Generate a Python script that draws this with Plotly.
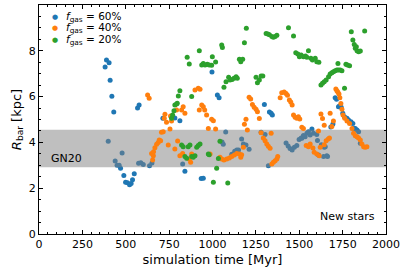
import plotly.graph_objects as go

# f_gas = 60% (blue)
blue_pts = [(381,7.29),(389,7.6),(404,7.48),(410,6.71),(420,6.01),(431,5.33),(399,4.05),(439,3.19),(450,3.0),(462,3.0),
            (470,2.87),(479,3.54),(489,2.55),(499,2.26),(510,2.24),(522,2.15),(531,2.21),(539,2.37),(549,2.63),(568,5.5),
            (577,5.63),(574,3.09),(587,3.11),(601,3.03),(637,2.98),(651,3.1),(714,5.05),(783,5.07),(812,4.95),(828,3.06),
            (841,2.74),(935,2.42),(947,2.43),(997,7.07),(1028,6.07),(1038,5.95),(1055,4.02),(1062,3.92),(1076,4.45),(1111,3.48),
            (1128,3.61),(1140,3.67),(1150,3.67),(1168,4.15),(1178,3.93),(1193,3.89),(1211,3.7),(1280,4.44),(1299,5.66),(1303,4.35),
            (1322,2.98),(1328,5.33),(1338,5.27),(1345,5.2),(1424,3.97),(1436,3.84),(1447,3.73),(1459,3.67),(1472,3.79),(1486,3.87),
            (1499,4.13),(1511,4.19),(1515,4.18),(1524,4.3),(1534,4.25),(1544,4.4),(1553,4.47),(1563,4.32),(1573,4.59),(1582,4.4),
            (1601,4.34),(1605,4.08),(1611,3.45),(1628,3.9),(1640,3.38),(1644,3.79),(1650,3.81),(1659,3.42),(1663,3.38),(1682,4.67),
            (1694,4.8),(1707,5.95),(1715,5.88),(1726,5.56),(1732,5.59),(1742,5.53),(1751,5.27),(1761,5.12),(1775,5.05),(1784,4.98),
            (1798,4.9),(1809,4.83),(1815,4.61),(1823,4.61),(1833,4.54),(1842,4.47),(1852,3.96)]

# f_gas = 40% (orange)
orange_pts = [(626,6.07),(635,5.93),(649,3.52),(655,3.23),(659,3.42),(660,3.59),(668,3.77),(678,3.92),(687,4.0),(693,4.1),
              (701,4.07),(706,4.44),(716,4.47),(722,5.05),(726,5.23),(735,4.88),(745,3.89),(755,4.59),(758,5.15),(764,4.93),
              (783,3.71),(793,5.41),(799,4.06),(812,3.42),(822,5.41),(828,3.52),(831,5.56),(841,5.27),(866,3.28),(874,3.13),
              (880,3.49),(899,6.29),(918,6.36),(928,6.32),(924,5.41),(938,5.63),(947,5.56),(955,5.41),(966,5.2),(976,4.61),
              (986,3.49),(995,5.01),(1005,4.95),(1018,4.59),(1043,3.35),(1053,3.28),(1066,3.23),(1082,3.28),(1097,3.32),(1111,3.38),
              (1126,3.45),(1140,3.52),(1155,3.49),(1163,3.35),(1168,3.46),(1178,3.79),(1184,4.79),(1193,5.01),(1201,4.54),(1211,5.97),
              (1220,5.9),(1230,5.66),(1240,5.53),(1251,5.45),(1259,5.34),(1270,5.04),(1280,4.42),(1293,4.19),(1303,4.07),(1313,3.93),
              (1322,3.83),(1332,3.74),(1338,4.4),(1342,3.06),(1351,3.13),(1361,3.2),(1371,3.28),(1376,3.38),(1390,5.95),(1399,6.17),
              (1413,6.2),(1424,6.14),(1432,6.06),(1443,5.85),(1451,5.76),(1459,5.63),(1467,5.2),(1476,5.1),(1486,5.05),(1495,5.12),
              (1503,5.02),(1515,4.66),(1524,4.61),(1540,3.86),(1553,3.81),(1563,3.93),(1579,3.76),(1586,3.57),(1601,3.49),(1615,3.42),
              (1621,3.79),(1644,3.9),(1655,4.07),(1667,4.15),(1674,4.19),(1611,4.5),(1625,5.24),(1634,5.04),(1644,4.75),(1688,4.69),
              (1697,4.93),(1678,5.27),(1711,6.33),(1717,6.26),(1723,6.19),(1729,6.11),(1734,5.95),(1740,5.7),(1746,5.45),(1752,5.2),
              (1762,5.05),(1775,4.93),(1790,4.83),(1804,4.61),(1813,4.4),(1823,4.29),(1833,4.25),(1842,4.19),(1852,4.1),(1861,3.93),
              (1871,3.81),(1880,3.79),(1890,3.81)]

# f_gas = 20% (green)
green_pts = [(764,5.05),(770,5.2),(778,5.38),(783,5.63),(793,5.68),(797,5.71),(803,6.03),(812,6.26),(822,3.89),(831,3.81),
             (841,3.38),(851,3.31),(854,7.72),(866,7.42),(860,3.81),(870,3.89),(880,6.0),(880,3.38),(889,3.35),(899,3.42),
             (909,3.79),(918,3.86),(924,8.0),(928,3.93),(938,7.38),(947,7.45),(957,7.38),(970,7.41),(981,7.38),(995,7.37),
             (976,3.49),(981,3.46),(999,7.74),(1005,2.26),(1018,7.51),(1024,2.87),(1034,3.3),(1043,4.05),(1053,8.25),(1057,8.14),
             (1066,6.41),(1078,6.65),(1088,2.23),(1093,6.84),(1101,6.72),(1113,6.75),(1124,6.8),(1136,6.87),(1143,6.8),(1155,7.63),
             (1163,7.52),(1174,7.63),(1184,8.35),(1195,8.98),(1251,6.84),(1259,6.61),(1270,6.72),(1280,6.9),(1290,6.9),(1309,8.76),
             (1319,8.73),(1328,8.7),(1342,8.62),(1351,8.59),(1361,8.62),(1371,8.68),(1438,9.01),(1467,8.65),(1480,7.92),(1492,7.86),
             (1501,7.74),(1511,7.82),(1524,7.74),(1536,7.77),(1544,7.72),(1553,8.0),(1567,7.67),(1576,7.6),(1592,7.67),(1601,7.52),
             (1613,7.5),(1625,6.51),(1634,6.58),(1644,6.65),(1655,6.72),(1669,6.87),(1678,6.99),(1688,7.04),(1697,7.09),(1707,7.13),
             (1717,7.16),(1726,7.16),(1736,7.16),(1746,7.13),(1723,7.44),(1761,6.36),(1769,7.41),(1778,7.38),(1790,7.35),(1800,8.83),
             (1809,8.47),(1817,8.28),(1823,8.11),(1829,8.18),(1833,8.0),(1842,7.96),(1852,7.99),(1877,8.86)]

series_names = ["<i>f</i><sub>gas</sub> = 60%", "<i>f</i><sub>gas</sub> = 40%", "<i>f</i><sub>gas</sub> = 20%"]
series_colors = ["#1f77b4", "#ff7f0e", "#2ca02c"]

band_lo, band_hi = 2.92, 4.55
x_range = [0, 2000]
y_range = [0, 10]

FONT = "DejaVu Sans"

def scat(pts, color, name):
    xs = [p[0] for p in pts]
    ys = [p[1] for p in pts]
    return go.Scatter(x=xs, y=ys, mode="markers", name=name, showlegend=False,
                      marker=dict(color=color, size=5, line=dict(width=0)))

fig = go.Figure()
fig.add_trace(scat(blue_pts, series_colors[0], series_names[0]))
fig.add_trace(go.Scatter(x=[x_range[0], x_range[1], x_range[1], x_range[0], x_range[0]],
                         y=[band_lo, band_lo, band_hi, band_hi, band_lo],
                         fill="toself", fillcolor="rgba(128,128,128,0.5)",
                         line=dict(width=0), mode="lines", showlegend=False, hoverinfo="skip"))
fig.add_trace(scat(orange_pts, series_colors[1], series_names[1]))
fig.add_trace(scat(green_pts, series_colors[2], series_names[2]))

# legend drawn as annotations (matplotlib-like compact layout)
leg_y = [0.948, 0.898, 0.848]
for name, color, yy in zip(series_names, series_colors, leg_y):
    fig.add_annotation(xref="paper", yref="paper", x=0.046, y=yy, text="●", showarrow=False,
                       xanchor="center", yanchor="middle",
                       font=dict(family=FONT, size=7, color=color))
    fig.add_annotation(xref="paper", yref="paper", x=0.072, y=yy, text=name, showarrow=False,
                       xanchor="left", yanchor="middle",
                       font=dict(family=FONT, size=10.5, color="black"))

fig.add_annotation(x=55, y=3.3, text="GN20", showarrow=False, xanchor="left",
                   font=dict(family=FONT, size=11, color="black"))
fig.add_annotation(x=1950, y=0.75, text="New stars", showarrow=False, xanchor="right",
                   font=dict(family=FONT, size=11, color="black"))

axis_common = dict(showline=True, linecolor="black", linewidth=1, mirror="ticks",
                   ticks="inside", ticklen=4, tickcolor="black", tickwidth=1,
                   showgrid=False, zeroline=False, automargin=False,
                   tickfont=dict(family=FONT, size=11, color="black"))

fig.update_xaxes(range=x_range, dtick=250, tick0=0,
                 minor=dict(ticks="inside", dtick=50, ticklen=2, tickcolor="black"),
                 title=dict(text="simulation time [Myr]", font=dict(family=FONT, size=13, color="black"), standoff=4),
                 **axis_common)
fig.update_yaxes(range=y_range, dtick=2, tick0=0,
                 minor=dict(ticks="inside", dtick=0.5, ticklen=2, tickcolor="black"),
                 title=dict(text="<i>R</i><sub>bar</sub> [kpc]", font=dict(family=FONT, size=13, color="black"), standoff=4),
                 **axis_common)

fig.update_layout(width=400, height=268, margin=dict(l=39, r=14, t=5, b=34),
                  plot_bgcolor="white", paper_bgcolor="white",
                  showlegend=False)

fig.write_html("out.html")
